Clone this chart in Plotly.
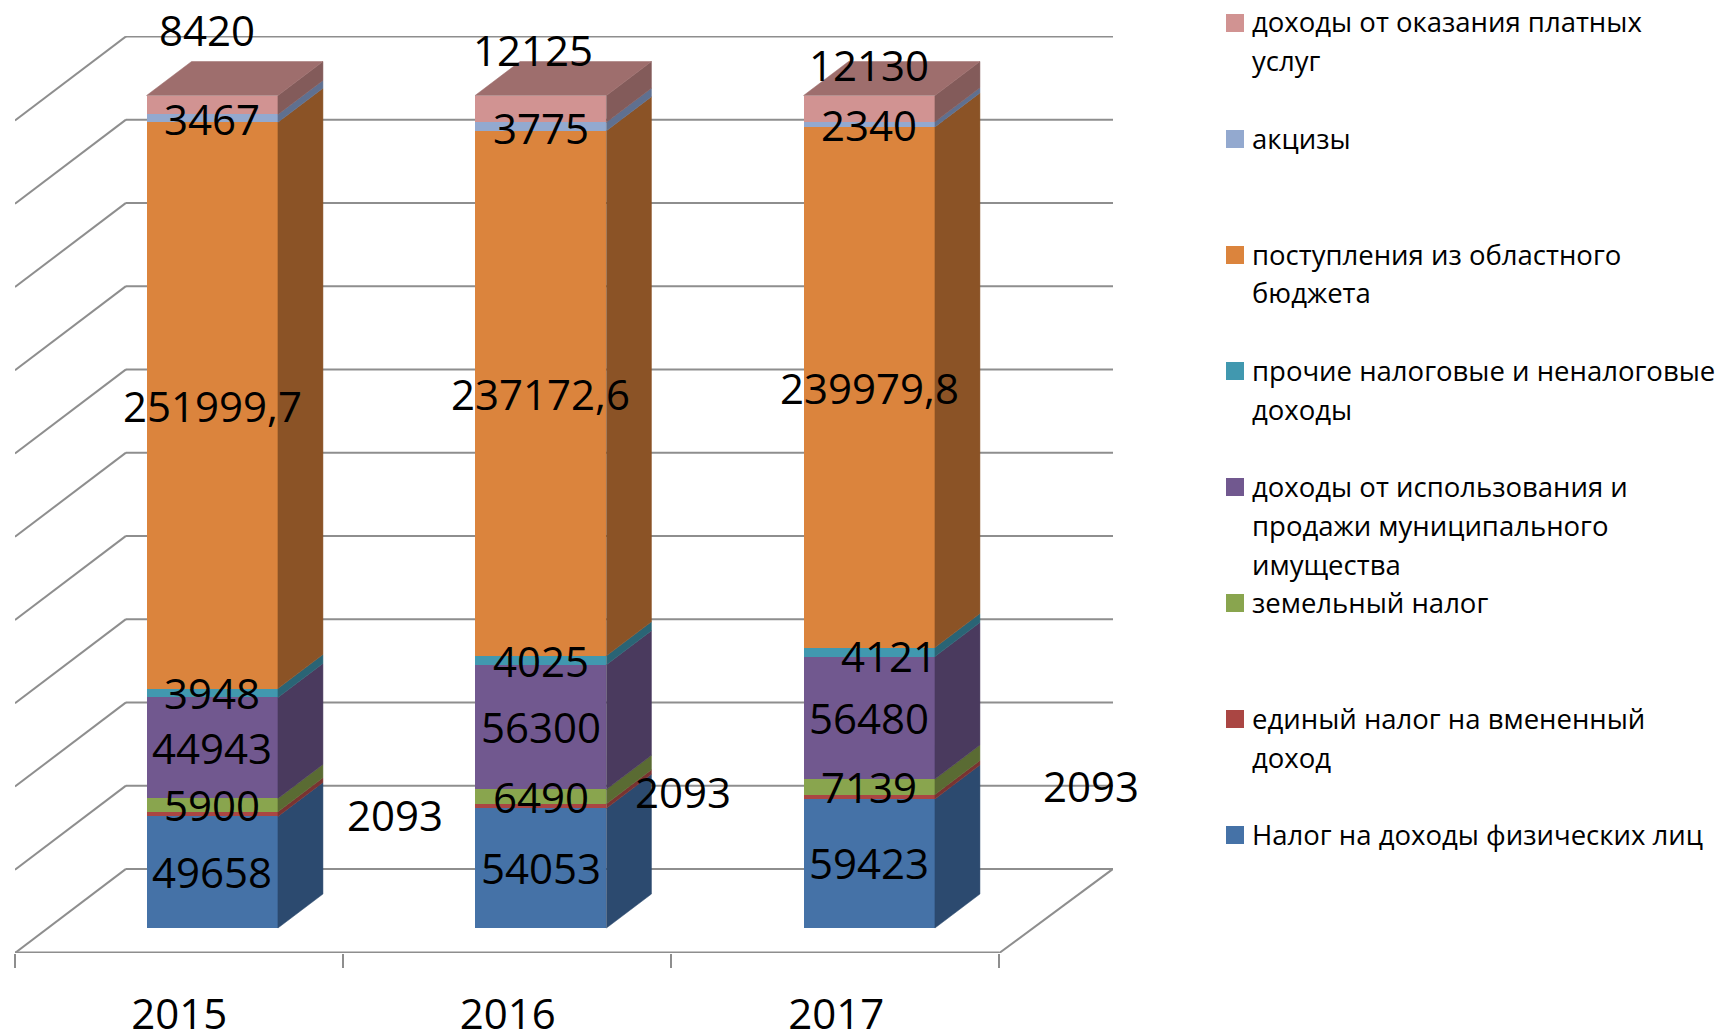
import plotly.graph_objects as go
import numpy as np

years = ["2015", "2016", "2017"]
names = ["Налог на доходы физических лиц", "единый налог на вмененный доход", "земельный налог",
         "доходы от использования и продажи муниципального имущества",
         "прочие налоговые и неналоговые доходы", "поступления из областного бюджета",
         "акцизы", "доходы от оказания платных услуг"]
ndfl = [49658, 54053, 59423]
envd = [2093, 2093, 2093]
land = [5900, 6490, 7139]
property_income = [44943, 56300, 56480]
other_income = [3948, 4025, 4121]
regional = [251999.7, 237172.6, 239979.8]
excise = [3467, 3775, 2340]
paid_services = [8420, 12125, 12130]
series = [ndfl, envd, land, property_income, other_income, regional, excise, paid_services]

front_colors = ["#4572A7", "#AA4643", "#89A54E", "#71588F", "#4198AF", "#DB843D", "#93A9CF", "#D19392"]
side_colors = ["#2C4A6F", "#7A3331", "#5A6B33", "#4A3A5E", "#2A6475", "#8B5326", "#5F7090", "#835B5A"]
top_color = "#9E6E6D"
grid_color = "#8E8E8E"
FONT = "Open Sans"

legend_lines = [["Налог на доходы физических лиц"], ["единый налог на вмененный", "доход"], ["земельный налог"],
                ["доходы от использования и", "продажи муниципального", "имущества"],
                ["прочие налоговые и неналоговые", "доходы"], ["поступления из областного", "бюджета"],
                ["акцизы"], ["доходы от оказания платных", "услуг"]]

# label shifts (px) for each series, each year
label_dx = [[0, 0, 0], [183, 142, 222], [0, 0, 0], [0, 0, 0], [0, 0, 20], [0, 0, 0], [0, 0, 0], [-5, -8, 0]]
label_dy = [[1, 1, 1], [0, 15, 11], [1, 0, 0], [0, 1, 0], [1, 0, -3], [0, 0, 0], [0, -1, 0], [75, 59, 44]]

# page geometry
W, H = 1718, 1032
PL, PR, PT, PB = 15, 1113, 36, 953
UX = 328.5
UY = 8.325
BAR_W = 0.4
BAR_DX, BAR_DY = 45 / UX, 34 / UY
WALL_DX, WALL_DY = 111 / UX, 10.1
FRONT_DX, FRONT_DY = -33 / UX, -3.0
CAT_STEP = 328.1 / UX
xmin, xmax = (15 - 212.25) / UX, (1113 - 212.25) / UX
ymin, ymax = -3.0, (928 - 36) / UY

x_pos = np.arange(len(years), dtype=float)
vals = np.array(series, dtype=float)
share = vals / vals.sum(axis=0) * 100
cum = np.vstack([np.zeros(len(years)), np.cumsum(share, axis=0)])

fig = go.Figure()

# front faces
for i, name in enumerate(names):
    fig.add_trace(go.Bar(x=x_pos, y=series[i], name=name, width=BAR_W, showlegend=False,
                         marker=dict(color=front_colors[i], line=dict(width=0))))

# right side faces and top faces, derived from the same normalised values
for j in range(len(years)):
    xr = x_pos[j] + BAR_W / 2
    for i in range(len(names)):
        lo, hi = cum[i, j], cum[i + 1, j]
        fig.add_trace(go.Scatter(x=[xr, xr + BAR_DX, xr + BAR_DX, xr, xr],
                                 y=[lo, lo + BAR_DY, hi + BAR_DY, hi, lo],
                                 mode="lines", fill="toself", fillcolor=side_colors[i],
                                 line=dict(color=side_colors[i], width=0.5),
                                 showlegend=False, hoverinfo="skip"))
    xl = x_pos[j] - BAR_W / 2
    fig.add_trace(go.Scatter(x=[xl, xr, xr + BAR_DX, xl + BAR_DX, xl],
                             y=[100, 100, 100 + BAR_DY, 100 + BAR_DY, 100],
                             mode="lines", fill="toself", fillcolor=top_color,
                             line=dict(color=top_color, width=0.5),
                             showlegend=False, hoverinfo="skip"))

shapes = []
line = dict(color=grid_color, width=2)
for p in range(0, 101, 10):
    xb = xmin + WALL_DX
    yb = p + FRONT_DY + WALL_DY
    shapes.append(dict(type="line", layer="below", xref="x", yref="y", x0=xb, x1=xmax, y0=yb, y1=yb, line=line))
    shapes.append(dict(type="line", layer="below", xref="x", yref="y", x0=xmin, x1=xb,
                       y0=p + FRONT_DY, y1=yb, line=line))
xfr = xmin + 3 * CAT_STEP
shapes.append(dict(type="line", layer="below", xref="x", yref="y", x0=xmin, x1=xfr, y0=ymin, y1=ymin,
                   line=dict(color=grid_color, width=3)))
shapes.append(dict(type="line", layer="below", xref="x", yref="y", x0=xfr, x1=xmax,
                   y0=ymin, y1=ymin + WALL_DY, line=line))

annotations = []
for i in range(len(names)):
    for j in range(len(years)):
        v = series[i][j]
        annotations.append(dict(x=x_pos[j], y=(cum[i, j] + cum[i + 1, j]) / 2, xref="x", yref="y",
                                text=str(v).replace(".", ","), showarrow=False,
                                xshift=label_dx[i][j], yshift=label_dy[i][j],
                                font=dict(family=FONT, size=42, color="black")))


def paper_x(px):
    return (px - PL) / (PR - PL)


def paper_y(py):
    return 1 - (py - PT) / (PB - PT)


legend_top = 23
for k, i in enumerate(reversed(range(len(names)))):
    cy = legend_top + k * 116
    shapes.append(dict(type="rect", layer="above", xref="paper", yref="paper",
                       x0=paper_x(1226), x1=paper_x(1244), y0=paper_y(cy - 9), y1=paper_y(cy + 9),
                       fillcolor=front_colors[i], line=dict(width=0)))
    for n, text in enumerate(legend_lines[i]):
        annotations.append(dict(x=paper_x(1250), y=paper_y(cy - 1 + n * 39), xref="paper", yref="paper",
                                xanchor="left", yanchor="middle", text=text, showarrow=False, align="left",
                                font=dict(family=FONT, size=27.5, color="black")))

fig.update_layout(
    width=W, height=H, autosize=False,
    margin=dict(l=PL, r=W - PR, t=PT, b=H - PB, pad=0),
    paper_bgcolor="white", plot_bgcolor="white",
    barmode="stack", barnorm="percent", showlegend=False,
    font=dict(family=FONT, color="black"),
    xaxis=dict(range=[xmin, xmax], tickmode="array", tickvals=x_pos + FRONT_DX, ticktext=years,
               showgrid=False, zeroline=False, showline=False, ticks="", ticklabelstandoff=33,
               automargin=False,
               tickfont=dict(family=FONT, size=42, color="black"),
               minor=dict(ticks="outside", ticklen=14, tickwidth=2, tickcolor=grid_color,
                          tickmode="linear", tick0=xmin, dtick=CAT_STEP, showgrid=False)),
    yaxis=dict(range=[ymin, ymax], visible=False, automargin=False),
    shapes=shapes, annotations=annotations,
)
fig.write_html("out.html", config={"displayModeBar": False},
               post_script="document.body.style.margin='0';document.body.style.overflow='hidden';")
